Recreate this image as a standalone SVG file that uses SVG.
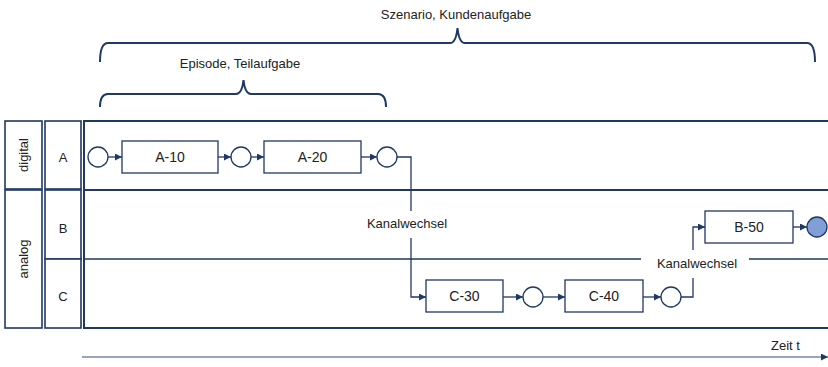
<svg xmlns="http://www.w3.org/2000/svg" width="828" height="367" viewBox="0 0 828 367">
<style>
.ln{fill:none;stroke:#1f3864;stroke-width:1.5}
.br{fill:none;stroke:#1f3864;stroke-width:2}
.lane{fill:#fff;stroke:#1f3864;stroke-width:2}
.col{fill:#fff;stroke:#1f3864;stroke-width:1.6}
.box{fill:#fff;stroke:#1f3864;stroke-width:1.3}
.ev{fill:#fff;stroke:#1f3864;stroke-width:1.3}
.end{fill:#7f9fd6;stroke:#1f3864;stroke-width:1.3}
.t{font-family:"Liberation Sans",Arial,sans-serif;font-size:13px;fill:#222}
.tb{font-family:"Liberation Sans",Arial,sans-serif;font-size:14px;fill:#222;text-anchor:middle}
.c{text-anchor:middle}
.fl{fill:none;stroke:#1f3864;stroke-width:1.3;marker-end:url(#ah)}
</style>
<defs>
<marker id="ah" viewBox="0 0 10 10" refX="10" refY="5" markerWidth="7" markerHeight="7" markerUnits="userSpaceOnUse" orient="auto">
<path d="M0,0 L10,5 L0,10 z" fill="#1f3864"/>
</marker>
</defs>
<rect width="828" height="367" fill="#fff"/>

<g id="braces">
<path class="br" d="M100,62 Q100,43 108,43 L450,43 Q456,43 457.5,28 Q459,43 465,43 L807,43 Q815,43 815,62"/>
<text class="t c" x="456" y="19">Szenario, Kundenaufgabe</text>
<path class="br" d="M100,107 Q100,94 108,94 L236,94 Q242,94 243.5,80 Q245,94 251,94 L378,94 Q386,94 386,107"/>
<text class="t c" x="240" y="68">Episode, Teilaufgabe</text>
</g>

<g id="pool-digital">
<rect class="col" x="5" y="121" width="37" height="68"/>
<text class="t c" transform="translate(28,155) rotate(-90)">digital</text>
</g>
<g id="pool-analog">
<rect class="col" x="5" y="190" width="37" height="138"/>
<text class="t c" transform="translate(28,259) rotate(-90)">analog</text>
</g>
<g id="lane-A">
<rect class="col" x="45" y="121" width="36" height="68"/>
<text class="t c" x="63" y="162">A</text>
<rect class="lane" x="84" y="121" width="750" height="69"/>
</g>
<g id="lane-B">
<rect class="col" x="45" y="190" width="36" height="69"/>
<text class="t c" x="63" y="233">B</text>
</g>
<g id="lane-C">
<rect class="col" x="45" y="259" width="36" height="69"/>
<text class="t c" x="63" y="301">C</text>
</g>
<g id="lane-BC">
<rect class="lane" x="84" y="190" width="750" height="138"/>
<path class="ln" d="M84,259 L641,259 M749,259 L834,259"/>
</g>

<g id="connectors">
<path class="fl" d="M108,157 L122,157"/>
<path class="fl" d="M218,157 L231,157"/>
<path class="fl" d="M251,157 L264,157"/>
<path class="fl" d="M361,157 L377,157"/>
<path class="ln" style="stroke-width:1.3" d="M397,157 L411,157 L411,211"/>
<path class="fl" d="M411,238 L411,297 L426,297"/>
<path class="fl" d="M503,297 L523,297"/>
<path class="fl" d="M543,297 L565,297"/>
<path class="fl" d="M643,297 L661,297"/>
<path class="ln" style="stroke-width:1.3" d="M681,297 L693,297 L693,278"/>
<path class="fl" d="M693,250 L693,227 L705,227"/>
<path class="fl" d="M793,227 L807,227"/>
<text class="t c" x="407" y="228">Kanalwechsel</text>
<text class="t c" x="697" y="268">Kanalwechsel</text>
</g>

<g id="ev1"><circle class="ev" cx="98" cy="157" r="10"/></g>
<g id="A-10"><rect class="box" x="122" y="141" width="96" height="32"/><text class="tb" x="170" y="162">A-10</text></g>
<g id="ev2"><circle class="ev" cx="241" cy="157" r="10"/></g>
<g id="A-20"><rect class="box" x="264" y="141" width="97" height="32"/><text class="tb" x="312.5" y="162">A-20</text></g>
<g id="ev3"><circle class="ev" cx="387" cy="157" r="10"/></g>
<g id="C-30"><rect class="box" x="426" y="280" width="77" height="32"/><text class="tb" x="464.5" y="301">C-30</text></g>
<g id="ev4"><circle class="ev" cx="533" cy="297" r="10"/></g>
<g id="C-40"><rect class="box" x="565" y="280" width="78" height="32"/><text class="tb" x="604" y="301">C-40</text></g>
<g id="ev5"><circle class="ev" cx="671" cy="297" r="10"/></g>
<g id="B-50"><rect class="box" x="705" y="211" width="88" height="32"/><text class="tb" x="749" y="232">B-50</text></g>
<g id="ev-end"><circle class="end" cx="817" cy="227" r="10"/></g>

<g id="time">
<path d="M82,357 L828,357" fill="none" stroke="#2f4d7a" stroke-width="1" marker-end="url(#ah)"/>
<text class="t" x="771" y="350">Zeit t</text>
</g>
</svg>
